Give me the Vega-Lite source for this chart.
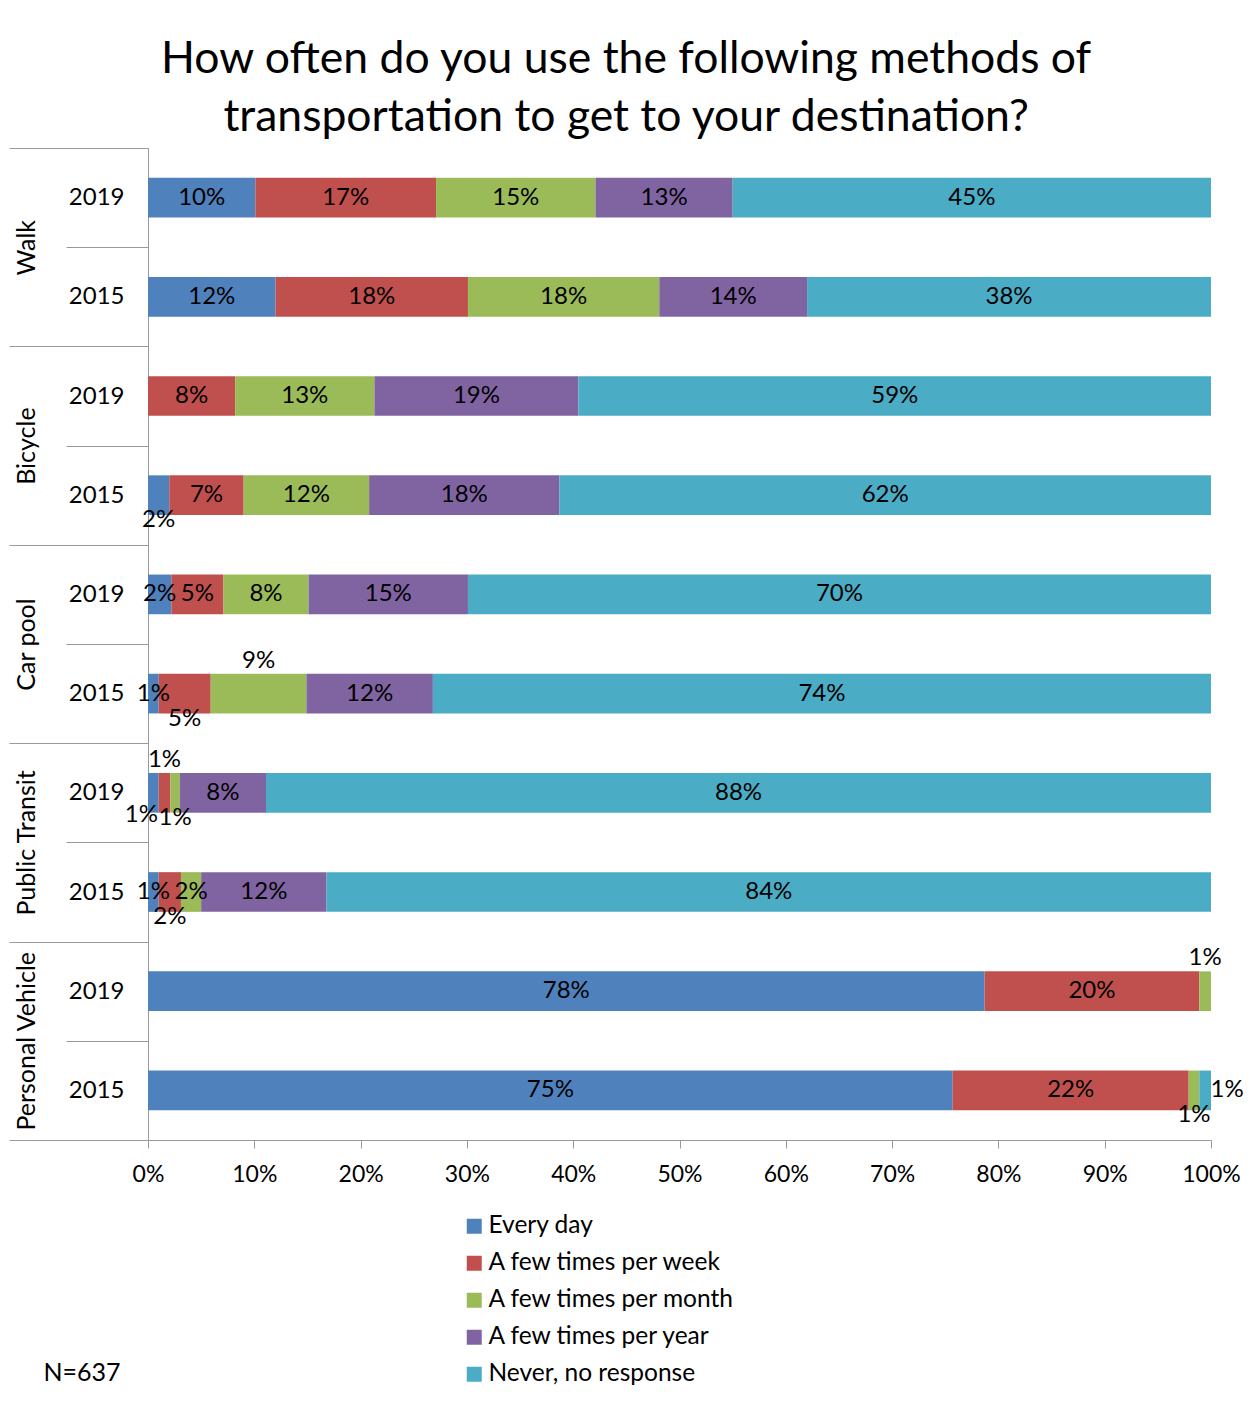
{
  "$schema": "https://vega.github.io/schema/vega-lite/v6.json",
  "width": 1063,
  "height": 992,
  "padding": {"left": 8, "top": 36, "right": 10, "bottom": 10},
  "background": "white",
  "config": {
    "font": "Lato",
    "view": {"stroke": null},
    "axis": {"labelColor": "black", "labelFont": "Lato", "titleFont": "Lato", "tickColor": "#9a9a9a", "domainColor": "#9a9a9a", "grid": false},
    "legend": {"labelFont": "Lato"}
  },
  "title": {
    "text": ["How often do you use the following methods of", "transportation to get to your destination?"],
    "fontSize": 44.5,
    "fontWeight": "normal",
    "font": "Lato",
    "color": "black",
    "lineHeight": 58,
    "anchor": "middle",
    "frame": "bounds",
    "offset": -4
  },
  "data": {
    "values": [
      {"group": "Walk", "row": "Walk|2019", "cat": "Every day", "k": 1, "share": 10.1, "label": "10%", "place": "in"},
      {"group": "Walk", "row": "Walk|2019", "cat": "A few times per week", "k": 2, "share": 17.0, "label": "17%", "place": "in"},
      {"group": "Walk", "row": "Walk|2019", "cat": "A few times per month", "k": 3, "share": 15.0, "label": "15%", "place": "in"},
      {"group": "Walk", "row": "Walk|2019", "cat": "A few times per year", "k": 4, "share": 12.9, "label": "13%", "place": "in"},
      {"group": "Walk", "row": "Walk|2019", "cat": "Never, no response", "k": 5, "share": 45.0, "label": "45%", "place": "in"},
      {"group": "Walk", "row": "Walk|2015", "cat": "Every day", "k": 1, "share": 12.0, "label": "12%", "place": "in"},
      {"group": "Walk", "row": "Walk|2015", "cat": "A few times per week", "k": 2, "share": 18.1, "label": "18%", "place": "in"},
      {"group": "Walk", "row": "Walk|2015", "cat": "A few times per month", "k": 3, "share": 18.0, "label": "18%", "place": "in"},
      {"group": "Walk", "row": "Walk|2015", "cat": "A few times per year", "k": 4, "share": 13.9, "label": "14%", "place": "in"},
      {"group": "Walk", "row": "Walk|2015", "cat": "Never, no response", "k": 5, "share": 38.0, "label": "38%", "place": "in"},
      {"group": "Bicycle", "row": "Bicycle|2019", "cat": "Every day", "k": 1, "share": 0, "label": "", "place": "none"},
      {"group": "Bicycle", "row": "Bicycle|2019", "cat": "A few times per week", "k": 2, "share": 8.2, "label": "8%", "place": "in"},
      {"group": "Bicycle", "row": "Bicycle|2019", "cat": "A few times per month", "k": 3, "share": 13.1, "label": "13%", "place": "in"},
      {"group": "Bicycle", "row": "Bicycle|2019", "cat": "A few times per year", "k": 4, "share": 19.2, "label": "19%", "place": "in"},
      {"group": "Bicycle", "row": "Bicycle|2019", "cat": "Never, no response", "k": 5, "share": 59.5, "label": "59%", "place": "in"},
      {"group": "Bicycle", "row": "Bicycle|2015", "cat": "Every day", "k": 1, "share": 2.0, "label": "2%", "place": "below"},
      {"group": "Bicycle", "row": "Bicycle|2015", "cat": "A few times per week", "k": 2, "share": 7.0, "label": "7%", "place": "in"},
      {"group": "Bicycle", "row": "Bicycle|2015", "cat": "A few times per month", "k": 3, "share": 11.8, "label": "12%", "place": "in"},
      {"group": "Bicycle", "row": "Bicycle|2015", "cat": "A few times per year", "k": 4, "share": 17.9, "label": "18%", "place": "in"},
      {"group": "Bicycle", "row": "Bicycle|2015", "cat": "Never, no response", "k": 5, "share": 61.3, "label": "62%", "place": "in"},
      {"group": "Car pool", "row": "Car pool|2019", "cat": "Every day", "k": 1, "share": 2.2, "label": "2%", "place": "in"},
      {"group": "Car pool", "row": "Car pool|2019", "cat": "A few times per week", "k": 2, "share": 4.9, "label": "5%", "place": "in"},
      {"group": "Car pool", "row": "Car pool|2019", "cat": "A few times per month", "k": 3, "share": 8.0, "label": "8%", "place": "in"},
      {"group": "Car pool", "row": "Car pool|2019", "cat": "A few times per year", "k": 4, "share": 15.0, "label": "15%", "place": "in"},
      {"group": "Car pool", "row": "Car pool|2019", "cat": "Never, no response", "k": 5, "share": 69.9, "label": "70%", "place": "in"},
      {"group": "Car pool", "row": "Car pool|2015", "cat": "Every day", "k": 1, "share": 1.0, "label": "1%", "place": "in"},
      {"group": "Car pool", "row": "Car pool|2015", "cat": "A few times per week", "k": 2, "share": 4.9, "label": "5%", "place": "below"},
      {"group": "Car pool", "row": "Car pool|2015", "cat": "A few times per month", "k": 3, "share": 9.0, "label": "9%", "place": "above"},
      {"group": "Car pool", "row": "Car pool|2015", "cat": "A few times per year", "k": 4, "share": 11.9, "label": "12%", "place": "in"},
      {"group": "Car pool", "row": "Car pool|2015", "cat": "Never, no response", "k": 5, "share": 73.2, "label": "74%", "place": "in"},
      {"group": "Public Transit", "row": "Public Transit|2019", "cat": "Every day", "k": 1, "share": 1.0, "label": "1%", "place": "belowleft"},
      {"group": "Public Transit", "row": "Public Transit|2019", "cat": "A few times per week", "k": 2, "share": 1.1, "label": "1%", "place": "above"},
      {"group": "Public Transit", "row": "Public Transit|2019", "cat": "A few times per month", "k": 3, "share": 0.9, "label": "1%", "place": "below"},
      {"group": "Public Transit", "row": "Public Transit|2019", "cat": "A few times per year", "k": 4, "share": 8.1, "label": "8%", "place": "in"},
      {"group": "Public Transit", "row": "Public Transit|2019", "cat": "Never, no response", "k": 5, "share": 88.9, "label": "88%", "place": "in"},
      {"group": "Public Transit", "row": "Public Transit|2015", "cat": "Every day", "k": 1, "share": 1.0, "label": "1%", "place": "in"},
      {"group": "Public Transit", "row": "Public Transit|2015", "cat": "A few times per week", "k": 2, "share": 2.1, "label": "2%", "place": "below"},
      {"group": "Public Transit", "row": "Public Transit|2015", "cat": "A few times per month", "k": 3, "share": 1.9, "label": "2%", "place": "in"},
      {"group": "Public Transit", "row": "Public Transit|2015", "cat": "A few times per year", "k": 4, "share": 11.8, "label": "12%", "place": "in"},
      {"group": "Public Transit", "row": "Public Transit|2015", "cat": "Never, no response", "k": 5, "share": 83.2, "label": "84%", "place": "in"},
      {"group": "Personal Vehicle", "row": "Personal Vehicle|2019", "cat": "Every day", "k": 1, "share": 78.7, "label": "78%", "place": "in"},
      {"group": "Personal Vehicle", "row": "Personal Vehicle|2019", "cat": "A few times per week", "k": 2, "share": 20.2, "label": "20%", "place": "in"},
      {"group": "Personal Vehicle", "row": "Personal Vehicle|2019", "cat": "A few times per month", "k": 3, "share": 1.1, "label": "1%", "place": "above"},
      {"group": "Personal Vehicle", "row": "Personal Vehicle|2019", "cat": "A few times per year", "k": 4, "share": 0, "label": "", "place": "none"},
      {"group": "Personal Vehicle", "row": "Personal Vehicle|2019", "cat": "Never, no response", "k": 5, "share": 0, "label": "", "place": "none"},
      {"group": "Personal Vehicle", "row": "Personal Vehicle|2015", "cat": "Every day", "k": 1, "share": 75.7, "label": "75%", "place": "in"},
      {"group": "Personal Vehicle", "row": "Personal Vehicle|2015", "cat": "A few times per week", "k": 2, "share": 22.2, "label": "22%", "place": "in"},
      {"group": "Personal Vehicle", "row": "Personal Vehicle|2015", "cat": "A few times per month", "k": 3, "share": 1.0, "label": "1%", "place": "below"},
      {"group": "Personal Vehicle", "row": "Personal Vehicle|2015", "cat": "A few times per year", "k": 4, "share": 0, "label": "", "place": "none"},
      {"group": "Personal Vehicle", "row": "Personal Vehicle|2015", "cat": "Never, no response", "k": 5, "share": 1.1, "label": "1%", "place": "right"}
    ]
  },
  "layer": [
    {
      "transform": [
        {"stack": "share", "groupby": ["row"], "sort": [{"field": "k", "order": "ascending"}], "as": ["x0", "x1"]}
      ],
      "encoding": {
        "y": {
          "field": "row", "type": "nominal",
          "scale": {
            "domain": ["Walk|2019", "Walk|2015", "Bicycle|2019", "Bicycle|2015", "Car pool|2019", "Car pool|2015", "Public Transit|2019", "Public Transit|2015", "Personal Vehicle|2019", "Personal Vehicle|2015"],
            "paddingInner": 0, "paddingOuter": 0
          },
          "axis": {
            "orient": "left", "title": null, "tickBand": "extent", "tickSize": 82, "labelPadding": -58,
            "labelExpr": "slice(datum.label, -4)", "labelFontSize": 24, "domain": true
          }
        }
      },
      "layer": [
        {
          "mark": {"type": "bar", "height": {"band": 0.4}},
          "encoding": {
            "x": {
              "field": "x0", "type": "quantitative",
              "scale": {"domain": [0, 100], "nice": false, "zero": true},
              "axis": {
                "orient": "bottom",
                "values": [0, 10, 20, 30, 40, 50, 60, 70, 80, 90, 100],
                "labelExpr": "datum.value + '%'", "labelFontSize": 23, "tickSize": 8, "labelPadding": 15,
                "labelFlush": false, "labelOverlap": false,
                "title": "N=637", "titleX": -105, "titleY": 232, "titleAlign": "left", "titleBaseline": "middle",
                "titleFontSize": 25, "titleFontWeight": "normal", "titleColor": "black", "titleAngle": 0
              }
            },
            "x2": {"field": "x1"},
            "color": {
              "field": "cat", "type": "nominal",
              "scale": {
                "domain": ["Every day", "A few times per week", "A few times per month", "A few times per year", "Never, no response"],
                "range": ["#4F81BD", "#C0504D", "#9BBB59", "#8064A2", "#4BACC6"]
              },
              "legend": {
                "title": null, "orient": "none", "legendX": 314, "legendY": 1066, "direction": "vertical",
                "symbolType": "square", "symbolSize": 225, "symbolStrokeWidth": 0, "labelFontSize": 24.5,
                "labelColor": "black", "rowPadding": 12, "labelOffset": 2, "labelLimit": 0
              }
            }
          }
        },
        {
          "transform": [
            {"filter": {"field": "place", "equal": "in"}},
            {"fold": ["x0", "x1"], "as": ["edge", "pos"]},
            {"aggregate": [{"op": "mean", "field": "pos", "as": "mid"}], "groupby": ["row", "k", "label"]}
          ],
          "mark": {"type": "text", "align": "center", "baseline": "middle", "fontSize": 24, "color": "black"},
          "encoding": {
            "x": {"field": "mid", "type": "quantitative"},
            "text": {"field": "label"}
          }
        },
        {
          "transform": [
            {"filter": {"field": "place", "equal": "above"}},
            {"fold": ["x0", "x1"], "as": ["edge", "pos"]},
            {"aggregate": [{"op": "mean", "field": "pos", "as": "mid"}], "groupby": ["row", "k", "label"]}
          ],
          "mark": {"type": "text", "align": "center", "baseline": "middle", "fontSize": 24, "color": "black", "dy": -33},
          "encoding": {
            "x": {"field": "mid", "type": "quantitative"},
            "text": {"field": "label"}
          }
        },
        {
          "transform": [
            {"filter": {"field": "place", "equal": "below"}},
            {"fold": ["x0", "x1"], "as": ["edge", "pos"]},
            {"aggregate": [{"op": "mean", "field": "pos", "as": "mid"}], "groupby": ["row", "k", "label"]}
          ],
          "mark": {"type": "text", "align": "center", "baseline": "middle", "fontSize": 24, "color": "black", "dy": 25},
          "encoding": {
            "x": {"field": "mid", "type": "quantitative"},
            "text": {"field": "label"}
          }
        },
        {
          "transform": [
            {"filter": {"field": "place", "equal": "belowleft"}},
            {"fold": ["x0", "x1"], "as": ["edge", "pos"]},
            {"aggregate": [{"op": "mean", "field": "pos", "as": "mid"}], "groupby": ["row", "k", "label"]}
          ],
          "mark": {"type": "text", "align": "center", "baseline": "middle", "fontSize": 24, "color": "black", "dy": 22, "dx": -12},
          "encoding": {
            "x": {"field": "mid", "type": "quantitative"},
            "text": {"field": "label"}
          }
        },
        {
          "transform": [
            {"filter": {"field": "place", "equal": "right"}},
            {"fold": ["x0", "x1"], "as": ["edge", "pos"]},
            {"aggregate": [{"op": "mean", "field": "pos", "as": "mid"}], "groupby": ["row", "k", "label"]}
          ],
          "mark": {"type": "text", "align": "center", "baseline": "middle", "fontSize": 24, "color": "black", "dx": 22},
          "encoding": {
            "x": {"field": "mid", "type": "quantitative"},
            "text": {"field": "label"}
          }
        }
      ]
    },
    {
      "mark": {"type": "point", "opacity": 0},
      "encoding": {
        "y": {
          "field": "group", "type": "nominal",
          "scale": {"domain": ["Walk", "Bicycle", "Car pool", "Public Transit", "Personal Vehicle"], "paddingInner": 0, "paddingOuter": 0},
          "axis": {
            "orient": "left", "title": null, "tickBand": "extent", "tickSize": 139, "labelPadding": -30,
            "labelAngle": -90, "labelAlign": "center", "labelBaseline": "bottom", "labelFontSize": 25, "domain": false
          }
        }
      }
    }
  ],
  "resolve": {"scale": {"y": "independent"}}
}
